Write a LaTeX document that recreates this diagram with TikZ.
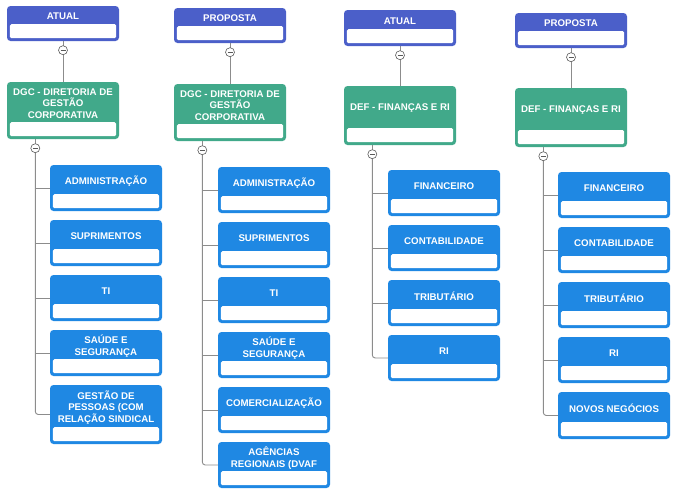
\documentclass[tikz,border=0pt]{standalone}
\usepackage{fontspec}
\setmainfont{Liberation Sans}
\usetikzlibrary{calc}
\definecolor{cTop}{HTML}{4B5FC9}
\definecolor{cGreen}{HTML}{41A98A}
\definecolor{cBlue}{HTML}{1F88E3}
\definecolor{cLine}{HTML}{8C8C8C}
\definecolor{cCirc}{HTML}{5A5A5A}
\tikzset{
  orgbox/.style={rectangle, rounded corners=3.5pt, minimum width=112pt, inner sep=0pt, draw=none},
  boxtext/.style={text=white, font=\fontsize{9.7}{11.7}\selectfont\bfseries, align=center, inner sep=0pt},
  conn/.style={draw=cLine, line width=0.9pt},
  toggle/.style={circle, draw=cCirc, fill=white, line width=0.6pt, minimum size=9pt, inner sep=0pt,
    path picture={\draw[cCirc, line width=0.7pt] ([xshift=-2.5pt]path picture bounding box.center) -- ([xshift=2.5pt]path picture bounding box.center);}}
}
\newcommand{\orgbox}[6]{%
  \node[orgbox, fill=#5, minimum height=#4pt] (#1) at ({#2+56},{#3+#4/2}) {};
  \fill[white, rounded corners=1.5pt] ([shift={(3pt,3pt)}]#1.south west) rectangle ([shift={(-3pt,17pt)}]#1.south east);
  \node[boxtext] (#1-t) at ($([yshift=-3pt]#1.north)!0.5!([yshift=17pt]#1.south)$) {#6};
}
\begin{document}
\begin{tikzpicture}[x=1pt, y=-1pt]
\useasboundingbox (0,0) rectangle (676,490);
% ---------- column 1 ----------
\orgbox{a1}{7}{6}{35}{cTop}{ATUAL}
\orgbox{g1}{7}{82}{57}{cGreen}{DGC - DIRETORIA DE\\GESTÃO\\CORPORATIVA}
\orgbox{k11}{50}{165}{46}{cBlue}{ADMINISTRAÇÃO}
\orgbox{k12}{50}{220}{46}{cBlue}{SUPRIMENTOS}
\orgbox{k13}{50}{275}{46}{cBlue}{TI}
\orgbox{k14}{50}{330}{46}{cBlue}{SAÚDE E\\SEGURANÇA}
\orgbox{k15}{50}{385}{59}{cBlue}{GESTÃO DE\\PESSOAS (COM\\RELAÇÃO SINDICAL}
% ---------- column 2 ----------
\orgbox{a2}{174}{8}{35}{cTop}{PROPOSTA}
\orgbox{g2}{174}{84}{57}{cGreen}{DGC - DIRETORIA DE\\GESTÃO\\CORPORATIVA}
\orgbox{k21}{218}{167}{46}{cBlue}{ADMINISTRAÇÃO}
\orgbox{k22}{218}{222}{46}{cBlue}{SUPRIMENTOS}
\orgbox{k23}{218}{277}{46}{cBlue}{TI}
\orgbox{k24}{218}{332}{46}{cBlue}{SAÚDE E\\SEGURANÇA}
\orgbox{k25}{218}{387}{46}{cBlue}{COMERCIALIZAÇÃO}
\orgbox{k26}{218}{442}{46}{cBlue}{AGÊNCIAS\\REGIONAIS (DVAF}
% ---------- column 3 ----------
\orgbox{a3}{344}{10}{36}{cTop}{ATUAL}
\orgbox{g3}{344}{86}{59}{cGreen}{DEF - FINANÇAS E RI}
\orgbox{k31}{388}{170}{46}{cBlue}{FINANCEIRO}
\orgbox{k32}{388}{225}{46}{cBlue}{CONTABILIDADE}
\orgbox{k33}{388}{280}{46}{cBlue}{TRIBUTÁRIO}
\orgbox{k34}{388}{335}{46}{cBlue}{RI}
% ---------- column 4 ----------
\orgbox{a4}{515}{13}{35}{cTop}{PROPOSTA}
\orgbox{g4}{515}{88}{59}{cGreen}{DEF - FINANÇAS E RI}
\orgbox{k41}{558}{172}{46}{cBlue}{FINANCEIRO}
\orgbox{k42}{558}{227}{46}{cBlue}{CONTABILIDADE}
\orgbox{k43}{558}{282}{46}{cBlue}{TRIBUTÁRIO}
\orgbox{k44}{558}{337}{46}{cBlue}{RI}
\orgbox{k45}{558}{392}{47}{cBlue}{NOVOS NEGÓCIOS}
% ---------- connectors ----------
\foreach \c in {1,2,3,4}{
  \draw[conn] (a\c.south) -- (g\c.north);
  \coordinate (j\c) at ([shift={(28.5pt,-9pt)}]g\c.south west);
  \draw[conn] (g\c.south -| j\c) -- (j\c);
}
\draw[conn] (j1) |- (k11.west); \draw[conn] (j1) |- (k12.west);
\draw[conn] (j1) |- (k13.west); \draw[conn] (j1) |- (k14.west);
\draw[conn, rounded corners=3pt] (j1) |- (k15.west);
\draw[conn] (j2) |- (k21.west); \draw[conn] (j2) |- (k22.west);
\draw[conn] (j2) |- (k23.west); \draw[conn] (j2) |- (k24.west);
\draw[conn] (j2) |- (k25.west);
\draw[conn, rounded corners=3pt] (j2) |- (k26.west);
\draw[conn] (j3) |- (k31.west); \draw[conn] (j3) |- (k32.west);
\draw[conn] (j3) |- (k33.west);
\draw[conn, rounded corners=3pt] (j3) |- (k34.west);
\draw[conn] (j4) |- (k41.west); \draw[conn] (j4) |- (k42.west);
\draw[conn] (j4) |- (k43.west); \draw[conn] (j4) |- (k44.west);
\draw[conn, rounded corners=3pt] (j4) |- (k45.west);
\foreach \c in {1,2,3,4}{
  \node[toggle] (ta\c) at ([yshift=-9pt]a\c.south) {};
  \node[toggle] (tg\c) at (j\c) {};
}
\end{tikzpicture}
\end{document}
